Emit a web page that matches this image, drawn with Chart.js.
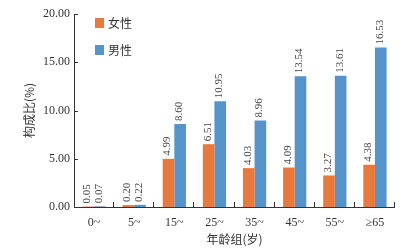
<!DOCTYPE html>
<html><head><meta charset="utf-8">
<script src="https://cdn.jsdelivr.net/npm/chart.js@4/dist/chart.umd.min.js"></script>
<style>html,body{margin:0;padding:0;background:#fff}#wrap{width:416px;height:250px}</style>
</head><body><div id="wrap"><canvas id="c" width="416" height="250"></canvas></div>
<script>
const categories = ["0~","5~","15~","25~","35~","45~","55~","≥65"];
const female = [0.05,0.20,4.99,6.51,4.03,4.09,3.27,4.38];
const male = [0.07,0.22,8.60,10.95,8.96,13.54,13.61,16.53];
const seriesNames = ["女性","男性"];
const yTicks = [0,5,10,15,20];
const serif = "'Liberation Serif','DejaVu Serif',serif";
const cjk = "'Noto Sans CJK SC',sans-serif";
const axisColor = '#333';

const extras = {
  id:'extras',
  afterDatasetsDraw(chart){
    const ctx = chart.ctx, area = chart.chartArea;
    const x = chart.scales.x, y = chart.scales.y;
    ctx.save();
    ctx.strokeStyle = axisColor; ctx.lineWidth = 1;
    ctx.beginPath();
    ctx.moveTo(area.left+0.5, area.top); ctx.lineTo(area.left+0.5, area.bottom+0.5);
    ctx.lineTo(area.right, area.bottom+0.5);
    ctx.stroke();
    yTicks.forEach(v=>{
      const py = Math.round(y.getPixelForValue(v))+0.5;
      ctx.beginPath(); ctx.moveTo(area.left, py); ctx.lineTo(area.left+4, py); ctx.stroke();
    });
    const step = x.getPixelForValue(1)-x.getPixelForValue(0);
    for(let i=0;i<categories.length;i++){
      const px = Math.round(x.getPixelForValue(i)+step/2)-0.5;
      ctx.beginPath(); ctx.moveTo(px, area.bottom); ctx.lineTo(px, area.bottom-5); ctx.stroke();
    }
    ctx.fillStyle = '#444';
    ctx.font = "11px "+serif;
    ctx.textAlign = 'left'; ctx.textBaseline='middle';
    chart.data.datasets.forEach((ds,di)=>{
      const meta = chart.getDatasetMeta(di);
      meta.data.forEach((bar,i)=>{
        ctx.save();
        ctx.translate(bar.x-1, bar.y-3);
        ctx.rotate(-Math.PI/2);
        ctx.fillText(ds.data[i].toFixed(2),0,0);
        ctx.restore();
      });
    });
    chart.data.datasets.forEach((ds,di)=>{
      const ly = area.top + 9 + di*27;
      ctx.fillStyle = ds.backgroundColor;
      ctx.fillRect(area.left+21, ly-5, 9, 10);
      ctx.fillStyle = '#333';
      ctx.font = "12px "+cjk;
      ctx.fillText(ds.label, area.left+34, ly);
    });
    ctx.restore();
  }
};

new Chart(document.getElementById('c'), {
  type:'bar',
  data:{labels:categories, datasets:[
    {label:seriesNames[0], data:female, backgroundColor:'#E8793D', categoryPercentage:0.58, barPercentage:1},
    {label:seriesNames[1], data:male, backgroundColor:'#5494CB', categoryPercentage:0.58, barPercentage:1}
  ]},
  options:{
    responsive:false, animation:false, devicePixelRatio:1,
    layout:{padding:{top:14,right:21,left:22,bottom:0}},
    plugins:{legend:{display:false},tooltip:{enabled:false}},
    scales:{
      x:{grid:{display:false,drawTicks:false}, border:{display:false},
         ticks:{color:axisColor,font:{family:serif,size:12},padding:9,maxRotation:0},
         title:{display:true,text:'年龄组(岁)',color:axisColor,font:{family:cjk,size:12},padding:{top:0,bottom:3}},
         afterFit(s){s.height=43;}},
      y:{min:0,max:20, afterBuildTicks(s){s.ticks=yTicks.map(v=>({value:v}));},
         grid:{display:false,drawTicks:false}, border:{display:false},
         ticks:{color:axisColor,font:{family:serif,size:12},padding:4,callback:v=>v.toFixed(2)},
         title:{display:true,text:'构成比(%)',color:axisColor,font:{family:cjk,size:12},padding:{top:0,bottom:0}},
         afterFit(s){s.width=52;}}
    }
  },
  plugins:[extras]
});
</script></body></html>
